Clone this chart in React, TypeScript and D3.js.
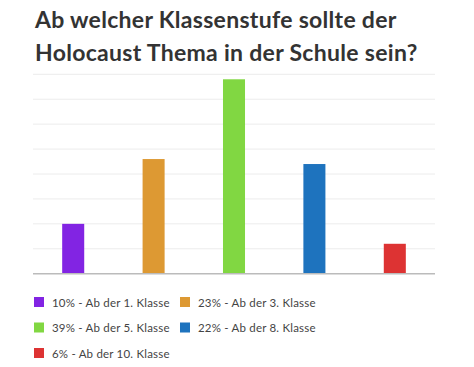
import React, { useEffect, useRef } from 'react';
import * as d3 from 'd3';

const categories = ['Ab der 1. Klasse', 'Ab der 3. Klasse', 'Ab der 5. Klasse', 'Ab der 8. Klasse', 'Ab der 10. Klasse'];
const values = [10, 23, 39, 22, 6];
const colors = ['#8224e3', '#dd9933', '#81d742', '#1e73be', '#dd3333'];
const titleLines = ['Ab welcher Klassenstufe sollte der', 'Holocaust Thema in der Schule sein?'];

const W = 474;
const H = 367;

const App = () => {
  const ref = useRef<SVGSVGElement>(null);

  useEffect(() => {
    const svg = d3.select(ref.current);
    svg.selectAll('*').remove();

    const font = 'Lato, "Noto Sans", sans-serif';

    // title
    svg.selectAll('.title')
      .data(titleLines)
      .enter()
      .append('text')
      .attr('class', 'title')
      .attr('x', 35)
      .attr('y', (d, i) => 28 + i * 33)
      .attr('font-family', font)
      .attr('font-weight', 700)
      .attr('font-size', 23)
      .attr('letter-spacing', 0.3)
      .attr('fill', '#333')
      .text(d => d);

    const plot = { left: 33, right: 435, top: 74.3, bottom: 273.7 };

    const x = d3.scaleBand<string>()
      .domain(categories)
      .range([plot.left, plot.right])
      .paddingInner(0.726)
      .paddingOuter(0.363);

    const y = d3.scaleLinear()
      .domain([0, 40])
      .range([plot.bottom, plot.top]);

    // grid
    svg.append('g')
      .selectAll('line')
      .data(y.ticks(8).filter(t => t > 0))
      .enter()
      .append('line')
      .attr('x1', plot.left)
      .attr('x2', plot.right)
      .attr('y1', d => y(d))
      .attr('y2', d => y(d))
      .attr('stroke', '#ececec')
      .attr('stroke-width', 1);

    // bars
    svg.append('g')
      .selectAll('rect')
      .data(values)
      .enter()
      .append('rect')
      .attr('x', (d, i) => x(categories[i]) as number)
      .attr('y', d => y(d))
      .attr('width', x.bandwidth())
      .attr('height', d => y(0) - y(d))
      .attr('fill', (d, i) => colors[i]);

    // baseline
    svg.append('line')
      .attr('x1', plot.left)
      .attr('x2', plot.right)
      .attr('y1', y(0))
      .attr('y2', y(0))
      .attr('stroke', '#bbb')
      .attr('stroke-width', 1.5);

    // legend
    const legend = svg.append('g')
      .selectAll('g')
      .data(categories)
      .enter()
      .append('g')
      .attr('transform', (d, i) => `translate(${34 + (i % 2) * 146},${297 + Math.floor(i / 2) * 25.5})`);

    legend.append('rect')
      .attr('width', 10)
      .attr('height', 10)
      .attr('fill', (d, i) => colors[i]);

    legend.append('text')
      .attr('x', 18)
      .attr('y', 9.5)
      .attr('font-family', font)
      .attr('font-size', 11.5)
      .attr('letter-spacing', 0.2)
      .attr('fill', '#444')
      .text((d, i) => `${values[i]}% - ${d}`);
  }, []);

  return <svg ref={ref} width={W} height={H} style={{ position: 'absolute', left: 0, top: 0 }} />;
};

export default App;
